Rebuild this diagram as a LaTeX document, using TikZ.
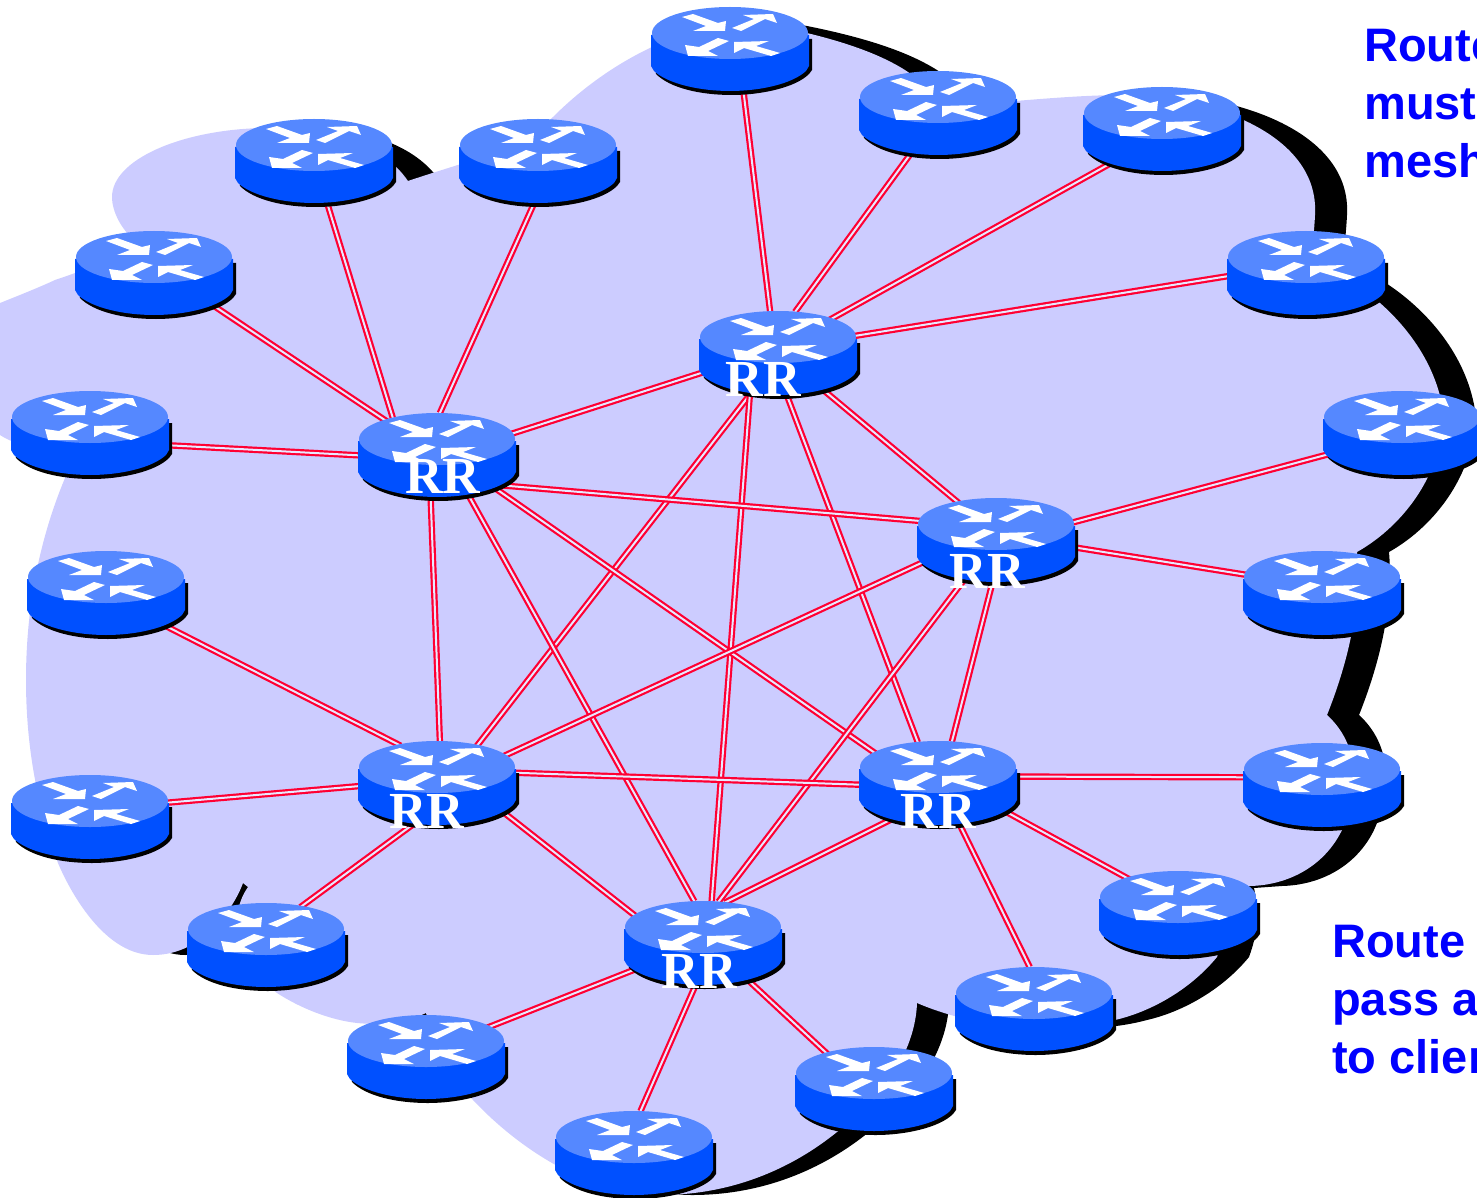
\documentclass[tikz,border=0pt]{standalone}
\usepackage{fontspec}
\setmainfont{Liberation Sans}
\newfontfamily\rrfont{Liberation Serif}
\usetikzlibrary{shapes.geometric}

\definecolor{cloudfill}{RGB}{204,204,255}
\definecolor{routertop}{RGB}{85,136,255}
\definecolor{routerside}{RGB}{0,80,255}
\definecolor{linkred}{RGB}{255,0,51}

\newcommand{\cloudoutline}{
	(140,245) .. controls (122,232) and (112,212) .. (112,197)
	.. controls (112,160) and (180,130) .. (262,128)
	.. controls (320,126) and (380,140) .. (408,181)
	.. controls (470,160) and (520,150) .. (553,117)
	.. controls (585,85) and (620,62) .. (652,47)
	.. controls (690,25) and (740,20) .. (775,26)
	.. controls (825,36) and (875,50) .. (908,72)
	.. controls (925,85) and (935,95) .. (945,105)
	.. controls (990,105) and (1060,95) .. (1125,95)
	.. controls (1200,95) and (1320,130) .. (1315,215)
	.. controls (1314,235) and (1312,250) .. (1310,262)
	.. controls (1355,275) and (1430,330) .. (1443,410)
	.. controls (1445,470) and (1405,525) .. (1357,552)
	.. controls (1362,610) and (1345,670) .. (1327,715)
	.. controls (1360,745) and (1360,790) .. (1342,830)
	.. controls (1325,865) and (1290,885) .. (1250,886)
	-- (1222,888)
	.. controls (1228,915) and (1225,935) .. (1217,957)
	.. controls (1190,990) and (1150,1012) .. (1115,1020)
	.. controls (1060,1035) and (980,1030) .. (917,1003)
	.. controls (915,1060) and (870,1110) .. (837,1132)
	.. controls (790,1170) and (730,1195) .. (660,1195)
	.. controls (590,1195) and (520,1150) .. (473,1100)
	.. controls (450,1075) and (435,1045) .. (426,1013)
	.. controls (400,1025) and (380,1025) .. (357,1023)
	.. controls (330,1020) and (300,1008) .. (277,993)
	.. controls (240,965) and (225,920) .. (248,887)
	-- (243,883)
	.. controls (235,905) and (205,955) .. (153,955)
	.. controls (100,955) and (65,880) .. (58,863)
	.. controls (35,800) and (26,740) .. (26,680)
	.. controls (26,620) and (35,550) .. (65,478)
	.. controls (68,465) and (70,460) .. (70,455)
	.. controls (40,450) and (15,445) .. (0,435)
	.. controls (-40,415) and (-60,385) .. (-60,365)
	.. controls (-60,340) and (-30,315) .. (0,303)
	.. controls (20,295) and (40,287) .. (55,280)
	.. controls (85,270) and (115,258) .. (140,245) -- cycle
}

\tikzset{
	routernode/.style={ellipse,inner sep=0pt,outer sep=0pt,minimum width=156pt,minimum height=82pt},
	link/.style={draw=linkred,line width=2.2pt,double=white!55!cloudfill,double distance=2pt},
	rrlabel/.style={text=white,font=\rrfont\bfseries\fontsize{52}{52}\selectfont,inner sep=0pt},
	bluetext/.style={text=blue,font=\bfseries\fontsize{47}{58}\selectfont,align=left,inner sep=0pt,anchor=north west},
	routerbody/.pic={
		\fill[black] (-76,-9) -- (82,-9) -- (82,22) -- (79,26) .. controls (65,40) and (30,47) .. (2,47)
			.. controls (-30,47) and (-60,40) .. (-74,26) -- cycle;
		\fill[routerside] (-79,-13) -- (79,-13) -- (79,18) -- (76,23) .. controls (62,36) and (30,43) .. (0,43)
			.. controls (-30,43) and (-62,36) .. (-76,23) -- (-79,18) -- cycle;
		\fill[routertop] (0,-15) ellipse [x radius=78,y radius=26];
		\begin{scope}[shift={(0,-15)},white]
			\fill (-48,-16) -- (-37,-19) -- (-12,-10) -- (-4,-12) -- (-5,-2) -- (-37,-2) -- (-24,-7) -- cycle;
			\fill (2,-5) -- (24,-14) -- (13,-18) -- (43,-19) -- (47,-10) -- (35,-14) -- (11,-2) -- cycle;
			\fill (-45,12) -- (-42,23) -- (-12,23) -- (-22,18) -- (-1,8) -- (-12,5) -- (-31,14) -- cycle;
			\fill (4,9) -- (39,8) -- (26,13) -- (50,20) -- (41,23) -- (14,15) -- (4,20) -- cycle;
		\end{scope}
	}
}

\begin{document}
\begin{tikzpicture}[x=1pt,y=-1pt]

	\useasboundingbox (0,0) rectangle (1477,1198);
	\clip (0,0) rectangle (1477,1198);

	\fill[black,xshift=32pt] \cloudoutline;
	\fill[cloudfill] \cloudoutline;

	\foreach \name/\x/\y in {top/730/48,upperone/938/112,uppertwo/1162/128,rightone/1306/272,
		righttwo/1402/432,rightthree/1322/592,rightfour/1322/784,lowerone/1178/912,lowertwo/1034/1008,
		lowerthree/874/1088,bottom/634/1152,lowerfour/426/1056,lowerfive/266/944,leftone/90/816,
		lefttwo/106/592,leftthree/90/432,leftfour/154/272,upperthree/314/160,upperfour/538/160,
		rra/778/352,rrb/437/454,rrc/996/539,rrd/437/782,rre/938/782,rrf/703/942}
		\node[routernode] (\name) at (\x,\y) {};

	\foreach \from/\to in {top.-72/rra.101,upperone.-123/rra.67,uppertwo.-145/rra.32,rightone.-177/rra.12,
		upperthree.-73/rrb.142,upperfour.-94/rrb.86,leftfour.-29/rrb.147,leftthree.-10/rrb.181,
		lefttwo.-30/rrd.135,leftone.10/rrd.-177,lowerfive.47/rrd.-117,
		lowerfour.25/rrf.-158,bottom.81/rrf.-99,lowerthree.144/rrf.-40,
		lowertwo.96/rre.-63,lowerone.146/rre.-23,rightfour.175/rre.4,
		rightthree.167/rrc.-6,righttwo.-163/rrc.12,
		rra.-165/rrb.15,rra.-40/rrc.136,rra.-123/rrd.42,rra.-79/rre.117,rra.-126/rrf.78,
		rrb.-30/rrc.166,rrb.-99/rrd.86,rrb.-30/rre.156,rrb.-52/rrf.102,
		rrc.-163/rrd.21,rrc.-94/rre.71,rrc.-128/rrf.69,
		rrd.7/rre.-178,rrd.-23/rrf.160,rre.-140/rrf.61}
		\draw[link] (\from) -- (\to);

	\foreach \name in {top,upperone,uppertwo,rightone,righttwo,rightthree,rightfour,lowerone,lowertwo,
		lowerthree,bottom,lowerfour,lowerfive,leftone,lefttwo,leftthree,leftfour,upperthree,upperfour,
		rra,rrb,rrc,rrd,rre,rrf}
		\pic at (\name.center) {routerbody};

	\node[rrlabel] (labela) at (763,379) {RR};
	\node[rrlabel] (labelb) at (443,476) {RR};
	\node[rrlabel] (labelc) at (987,571) {RR};
	\node[rrlabel] (labeld) at (427,811) {RR};
	\node[rrlabel] (labele) at (938,811) {RR};
	\node[rrlabel] (labelf) at (699,971) {RR};

	\node[bluetext] (notetop) at (1364,29) {Route\\must\\mesh};
	\node[bluetext] (notebottom) at (1332,925) {Route\\pass a\\to clien};

\end{tikzpicture}
\end{document}
